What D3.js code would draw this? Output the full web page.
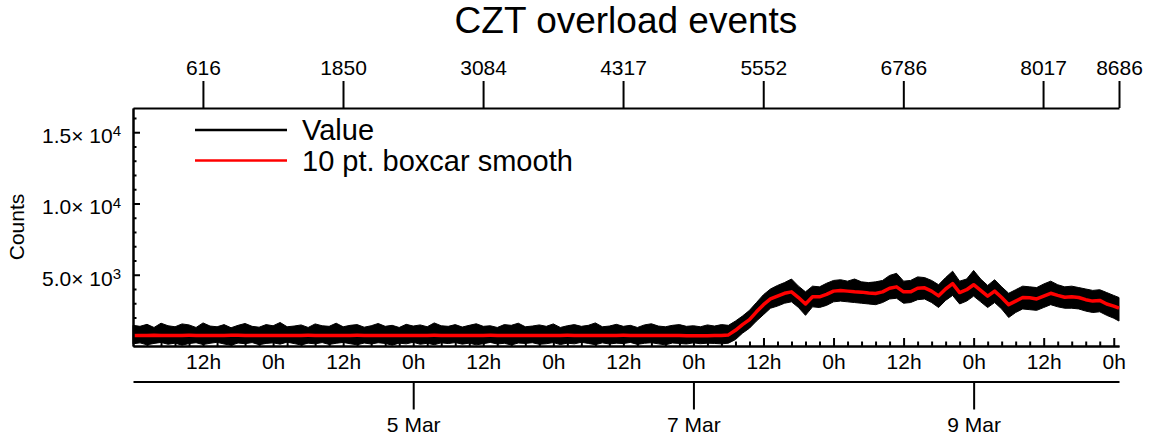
<!DOCTYPE html>
<html>
<head>
<meta charset="utf-8">
<script src="https://cdn.jsdelivr.net/npm/d3@7"></script>
<style>
  body { margin: 0; background: #fff; }
  svg { display: block; font-family: 'Liberation Sans', Arial, Helvetica, sans-serif; }
  .axis path, .axis line { stroke: #000; stroke-width: 2; }
  .axis text { fill: #000; font-size: 21px; }
</style>
</head>
<body>
<svg id="chart" width="1154" height="440"></svg>
<script>
// samples every 1.2 h from 3 Mar 00:00 UT, last one at the end of the record
const sampleStepHours = 1.2
const lastHour = 168.9
const lastIndex = 8686

// upper / lower edge of the raw counts and the 10 pt boxcar line
const valueHigh = [
  1450, 1380, 1520, 1300, 1600, 1420, 1350, 1550, 1480, 1300,
  1620, 1400, 1350, 1500, 1280, 1450, 1580, 1380, 1320, 1500,
  1420, 1650, 1350, 1400, 1480, 1300, 1550, 1420, 1380, 1600,
  1350, 1450, 1500, 1320, 1420, 1580, 1380, 1450, 1300, 1520,
  1400, 1480, 1350, 1620, 1420, 1380, 1500, 1330, 1450, 1560,
  1380, 1420, 1300, 1500, 1450, 1600, 1350, 1400, 1480, 1380,
  1550, 1300, 1420, 1500, 1380, 1450, 1620, 1350, 1400, 1520,
  1380, 1450, 1300, 1480, 1560, 1400, 1350, 1450, 1500, 1380,
  1420, 1350, 1480, 1400,
  1500, 1450, 1750, 2100, 2500, 3050, 3600, 4000, 4250, 4450,
  4700, 4200, 3800, 4200, 4150, 4400, 4600, 4650, 4550, 4700,
  4500, 4450, 4500, 4600, 4950, 5100, 4550, 4600, 4850, 4800,
  4600, 4300, 4800, 5250, 4550, 4700, 5300, 4700, 4250, 4650,
  4150, 3700, 3950, 4200, 4150, 4100, 4350, 4550, 4300, 4150,
  4200, 4100, 4000, 3900, 3950, 3750, 3550, 3400
]
const valueLow = [
  150, 220, 80, 180, 250, 120, 200, 60, 170, 230,
  100, 190, 260, 140, 50, 210, 160, 240, 90, 180,
  220, 130, 270, 170, 70, 200, 150, 240, 110, 190,
  250, 160, 80, 210, 140, 230, 180, 60, 200, 150,
  260, 120, 190, 90, 220, 170, 240, 130, 200, 80,
  160, 250, 140, 190, 70, 210, 180, 230, 120, 160,
  240, 100, 200, 150, 260, 180, 90, 220, 140, 200,
  170, 250, 110, 190, 230, 150, 80, 210, 180, 140,
  220, 160, 200, 180,
  150, 200, 450, 900, 1250, 1750, 2200, 2650, 2800, 3000,
  3100, 2700, 2150, 2750, 2700, 2850, 3100, 3150, 3100, 3050,
  3000, 2950, 2900, 3050, 3300, 3350, 3000, 3050, 3250, 3300,
  3050, 2700, 3200, 3550, 2950, 3150, 3500, 3100, 2700, 3050,
  2600, 2000, 2350, 2600, 2550, 2500, 2700, 2900, 2750, 2650,
  2650, 2600, 2450, 2350, 2400, 2150, 1950, 1750
]
const smoothCounts = [
  740, 735, 745, 750, 740, 730, 735, 745, 750, 745,
  740, 735, 730, 740, 750, 755, 745, 740, 735, 740,
  745, 740, 730, 735, 745, 750, 745, 740, 735, 730,
  740, 745, 750, 745, 740, 735, 740, 745, 740, 735,
  730, 740, 745, 750, 745, 740, 735, 730, 735, 740,
  745, 750, 745, 740, 735, 740, 745, 740, 735, 730,
  740, 745, 750, 745, 740, 735, 730, 735, 740, 745,
  750, 745, 740, 735, 740, 745, 740, 735, 730, 725,
  720, 720, 725, 730,
  730, 780, 1100, 1500, 1850, 2400, 2900, 3300, 3500, 3700,
  3800, 3400, 2950, 3450, 3450, 3620, 3850, 3900, 3850, 3800,
  3780, 3720, 3680, 3800, 4050, 4150, 3800, 3800, 4050, 4080,
  3850, 3520, 4000, 4380, 3750, 3950, 4300, 3900, 3500, 3850,
  3400, 2900, 3150, 3400, 3380, 3300, 3500, 3700, 3550, 3420,
  3450, 3400, 3250, 3150, 3200, 2950, 2800, 2650
]

const indexTicks = [616, 1850, 3084, 4317, 5552, 6786, 8017, 8686]
const yTicks = [5000, 10000, 15000]
const dateTicks = ['2020-03-05', '2020-03-07', '2020-03-09']
const legendLabels = ['Value', '10 pt. boxcar smooth']
const legendColours = ['#000', '#ff0000']

const svg = d3.select('#chart')
const plotLeft = 133, plotRight = 1119, plotTop = 108, plotBottom = 346
const hourMs = 3600e3

const t0 = new Date(Date.UTC(2020, 2, 3))
const tEnd = new Date(+t0 + lastHour * hourMs)
const rows = smoothCounts.map((s, i) => ({
  t: new Date(+t0 + Math.min(i * sampleStepHours, lastHour) * hourMs),
  hi: valueHigh[i],
  lo: valueLow[i],
  s
}))

const x = d3.scaleUtc().domain([t0, tEnd]).range([plotLeft, plotRight])
const xIndex = d3.scaleLinear().domain([0, lastIndex]).range([plotLeft, plotRight])
const y = d3.scaleLinear().domain([0, 16700]).range([plotBottom, plotTop])

// raw counts band
svg.append('path')
  .datum(rows)
  .attr('fill', '#000')
  .attr('stroke', '#000')
  .attr('stroke-width', 1)
  .attr('d', d3.area().x(d => x(d.t)).y0(d => y(d.lo)).y1(d => y(d.hi)))

// boxcar smooth
svg.append('path')
  .datum(rows)
  .attr('fill', 'none')
  .attr('stroke', '#ff0000')
  .attr('stroke-width', 3.5)
  .attr('stroke-linejoin', 'round')
  .attr('d', d3.line().x(d => x(d.t)).y(d => y(d.s)))

// top axis: sample index
svg.append('g')
  .attr('class', 'axis')
  .attr('transform', `translate(0,${plotTop})`)
  .call(d3.axisTop(xIndex).tickValues(indexTicks).tickSize(27).tickSizeOuter(0).tickPadding(6).tickFormat(d3.format('d')))

// left axis
const yMinor = d3.range(1000, 16700, 1000).filter(v => v % 5000)
svg.append('g')
  .attr('class', 'axis')
  .attr('transform', `translate(${plotLeft},0)`)
  .call(d3.axisLeft(y).tickValues(yMinor).tickSize(-3.5).tickSizeOuter(0).tickFormat(''))
const yAxis = svg.append('g')
  .attr('class', 'axis')
  .attr('transform', `translate(${plotLeft},0)`)
  .call(d3.axisLeft(y).tickValues(yTicks).tickSize(-7).tickSizeOuter(0).tickPadding(12).tickFormat(''))
yAxis.selectAll('.tick text').each(function (d) {
  const e = Math.floor(Math.log10(d))
  const t = d3.select(this).attr('dy', '0.5em')
  t.append('tspan').text(`${(d / 10 ** e).toFixed(1)}× 10`)
  t.append('tspan').attr('class', 'sup').attr('dy', '-0.45em').text(e)
})

// bottom axis: hours
const hourTicks = d3.utcHour.every(12).range(new Date(+t0 + 1), tEnd)
const minorTicks = d3.range(1, Math.floor(lastHour / 2.4) + 1)
  .filter(i => i % 5)
  .map(i => new Date(+t0 + i * 2.4 * hourMs))
svg.append('g')
  .attr('class', 'axis')
  .attr('transform', `translate(0,${plotBottom})`)
  .call(d3.axisBottom(x).tickValues(minorTicks).tickSize(-4.5).tickSizeOuter(0).tickFormat(''))
svg.append('g')
  .attr('class', 'axis')
  .attr('transform', `translate(0,${plotBottom})`)
  .call(d3.axisBottom(x).tickValues(hourTicks).tickSize(-8).tickSizeOuter(0).tickPadding(8).tickFormat(d3.utcFormat('%-Hh')))

// second bottom axis: dates
svg.append('g')
  .attr('class', 'axis')
  .attr('transform', 'translate(0,381.5)')
  .call(d3.axisBottom(x).tickValues(dateTicks.map(d => new Date(d + 'T00:00Z')))
    .tickSize(28).tickSizeOuter(0).tickPadding(8).tickFormat(d3.utcFormat('%-d %b')))

svg.selectAll('.axis text').style('font-size', '21px')
svg.selectAll('.axis tspan.sup').style('font-size', '15px')

// y title
svg.append('text')
  .attr('transform', `translate(24,${(plotTop + plotBottom) / 2}) rotate(-90)`)
  .attr('text-anchor', 'middle')
  .style('font-size', '21px')
  .text('Counts')

// title
svg.append('text')
  .attr('x', (plotLeft + plotRight) / 2)
  .attr('y', 33)
  .attr('text-anchor', 'middle')
  .style('font-size', '37px')
  .text('CZT overload events')

// legend
const legend = svg.selectAll('.legend')
  .data(legendLabels)
  .enter().append('g')
    .attr('class', 'legend')
    .attr('transform', (d, i) => `translate(195,${130 + i * 30.5})`)
legend.append('line')
  .attr('x2', 92)
  .attr('stroke', (d, i) => legendColours[i])
  .attr('stroke-width', 2.5)
legend.append('text')
  .attr('x', 107)
  .attr('y', 10)
  .style('font-size', '29px')
  .text(d => d)
</script>
</body>
</html>
